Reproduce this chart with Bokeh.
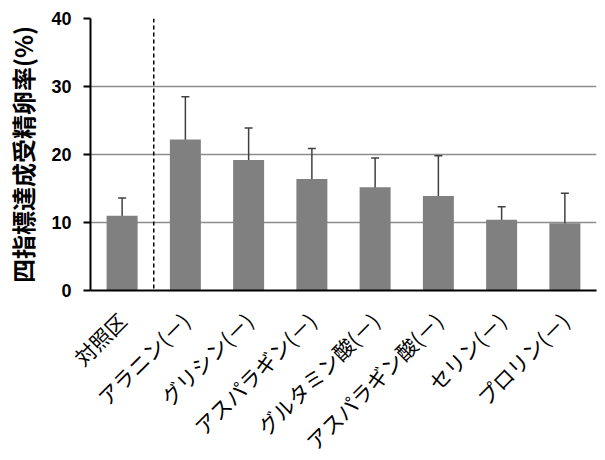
import math
from bokeh.plotting import figure
from bokeh.models import FactorRange, ColumnDataSource, Whisker, Span, Range1d, FixedTicker
from bokeh.embed import file_html
from bokeh.resources import INLINE

categories = ["対照区", "アラニン(－)", "グリシン(－)", "アスパラギン(－)",
              "グルタミン酸(－)", "アスパラギン酸(－)", "セリン(－)", "プロリン(－)"]
rates = [11.0, 22.2, 19.2, 16.4, 15.2, 13.9, 10.4, 9.9]
err_upper = [13.6, 28.5, 23.9, 20.9, 19.5, 19.8, 12.3, 14.3]
err_lower = [8.5, 16.0, 14.4, 11.9, 10.9, 8.0, 8.4, 5.4]
y_ticks = [0, 10, 20, 30, 40]
y_title = "四指標達成受精卵率(%)"

src = ColumnDataSource(dict(cat=categories, rate=rates, upper=err_upper, lower=err_lower))

p = figure(x_range=FactorRange(factors=categories), y_range=Range1d(0, 40),
           frame_width=506, frame_height=272,
           width=589, height=444,
           output_backend="svg", toolbar_location=None,
           min_border_left=90, min_border_top=18, min_border_right=1, min_border_bottom=10)

p.vbar(x="cat", top="rate", width=0.49, source=src, fill_color="#808080", line_color=None)

w = Whisker(base="cat", upper="upper", lower="lower", source=src,
            line_color="#404040", line_width=1.5)
w.upper_head.size = 8
w.lower_head.size = 8
w.upper_head.line_color = "#404040"
w.lower_head.line_color = "#404040"
w.upper_head.line_width = 1.5
w.lower_head.line_width = 1.5
p.add_layout(w)

p.add_layout(Span(location=1, dimension="height", line_color="black",
                  line_dash="4 3", line_width=1.5))

p.outline_line_color = None
p.xgrid.grid_line_color = None
p.ygrid.grid_line_color = "#8c8c8c"
p.ygrid.grid_line_width = 1.5

p.yaxis.ticker = FixedTicker(ticks=y_ticks)
p.yaxis.axis_line_color = "black"
p.yaxis.axis_line_width = 2
p.yaxis.major_tick_out = 7
p.yaxis.major_tick_in = 0
p.yaxis.major_tick_line_width = 2
p.yaxis.minor_tick_line_color = None
p.yaxis.major_label_text_font = "Liberation Sans"
p.yaxis.major_label_text_font_style = "bold"
p.yaxis.major_label_text_font_size = "18px"
p.yaxis.major_label_text_color = "black"
p.yaxis.major_label_standoff = 12
p.yaxis.axis_label = y_title
p.yaxis.axis_label_text_font = "Noto Sans CJK JP"
p.yaxis.axis_label_text_font_style = "bold"
p.yaxis.axis_label_text_font_size = "24px"
p.yaxis.axis_label_text_color = "black"
p.yaxis.axis_label_standoff = 8

p.xaxis.axis_line_color = "black"
p.xaxis.axis_line_width = 2
p.xaxis.major_tick_line_color = None
p.xaxis.minor_tick_line_color = None
p.xaxis.major_label_orientation = math.pi / 4
p.xaxis.major_label_text_font = "Noto Sans CJK JP"
p.xaxis.major_label_text_font_size = "21px"
p.xaxis.major_label_text_color = "black"
p.xaxis.major_label_standoff = 20

open("out.html", "w").write(file_html(p, INLINE))
